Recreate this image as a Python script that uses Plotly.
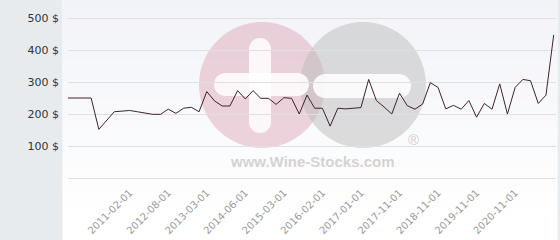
import plotly.graph_objects as go
import math

# ---------------- data ----------------
dates = [
    "2009-03-01", "2009-09-01", "2010-01-01", "2010-06-01", "2010-09-01", "2010-10-01",
    "2010-11-01", "2010-12-01", "2011-02-01", "2011-05-01", "2011-09-01", "2012-01-01",
    "2012-05-01", "2012-08-01", "2012-10-01", "2012-11-01", "2012-12-01", "2013-01-01",
    "2013-03-01", "2013-05-01", "2013-08-01", "2013-11-01", "2014-02-01", "2014-06-01",
    "2014-08-01", "2014-10-01", "2014-11-01", "2015-01-01", "2015-03-01", "2015-05-01",
    "2015-07-01", "2015-10-01", "2015-12-01", "2016-02-01", "2016-04-01", "2016-06-01",
    "2016-09-01", "2016-11-01", "2017-01-01", "2017-03-01", "2017-05-01", "2017-07-01",
    "2017-09-01", "2017-11-01", "2018-01-01", "2018-03-01", "2018-05-01", "2018-08-01",
    "2018-11-01", "2019-01-01", "2019-03-01", "2019-05-01", "2019-08-01", "2019-11-01",
    "2020-01-01", "2020-03-01", "2020-05-01", "2020-08-01", "2020-11-01", "2021-01-01",
    "2021-03-01", "2021-05-01", "2021-08-01", "2021-11-01",
]
prices = [
    250, 250, 250, 250, 152, 178, 207, 209, 211, 207, 203, 199,
    199, 215, 202, 218, 221, 207, 270, 241, 225, 225, 273, 247,
    273, 249, 249, 230, 251, 249, 200, 259, 218, 218, 162, 218,
    216, 218, 220, 308, 242, 222, 200, 265, 226, 215, 231, 298,
    283, 216, 227, 215, 242, 190, 233, 215, 294, 200, 283, 308,
    304, 233, 259, 447,
]
x_tick_labels = [
    "2011-02-01", "2012-08-01", "2013-03-01", "2014-06-01", "2015-03-01", "2016-02-01",
    "2017-01-01", "2017-11-01", "2018-11-01", "2019-11-01", "2020-11-01",
]
y_tick_values = [0, 100, 200, 300, 400, 500]
y_tick_labels = ["", "100 $", "200 $", "300 $", "400 $", "500 $"]
watermark_text = "www.Wine-Stocks.com"

# ---------------- layout geometry (pixels) ----------------
W, H = 560, 240
L, R, T, B = 68, 4, 2, 62
PW, PH = W - L - R, H - T - B


def px(x):
    return (x - L) / PW


def py(y):
    return (H - B - y) / PH


fig = go.Figure()
fig.add_trace(go.Scatter(
    x=dates, y=prices, mode="lines",
    line=dict(color="#3d2230", width=1),
    hoverinfo="x+y", showlegend=False,
))

shapes = []
# gradient background (bands) for the chart area
top = (242, 243, 248)
bot = (255, 255, 255)
n = 24
for k in range(n):
    y0 = k * H / n
    y1 = (k + 1) * H / n
    t = min(1.0, (y0 + y1) / 2 / 215)
    c = tuple(round(top[j] + (bot[j] - top[j]) * t) for j in range(3))
    shapes.append(dict(type="rect", xref="paper", yref="paper",
                       x0=px(63), x1=px(557), y0=py(y1), y1=py(y0),
                       fillcolor="rgb(%d,%d,%d)" % c, line=dict(width=0),
                       layer="below"))
# left grey panel and right border
shapes.append(dict(type="rect", xref="paper", yref="paper",
                   x0=px(0), x1=px(62.5), y0=py(H), y1=py(0),
                   fillcolor="#e7ebee", line=dict(width=0), layer="below"))
shapes.append(dict(type="rect", xref="paper", yref="paper",
                   x0=px(557.5), x1=px(W), y0=py(H), y1=py(0),
                   fillcolor="#e7ebee", line=dict(width=0), layer="below"))

# watermark: pink circle with plus, grey circle with minus
r = 63
cx1, cy1 = 262, 85
cx2, cy2 = 363, 85
shapes.append(dict(type="circle", xref="paper", yref="paper",
                   x0=px(cx1 - r), x1=px(cx1 + r), y0=py(cy1 + r), y1=py(cy1 - r),
                   fillcolor="rgba(214,150,168,0.40)", line=dict(width=0), layer="below"))
shapes.append(dict(type="circle", xref="paper", yref="paper",
                   x0=px(cx2 - r), x1=px(cx2 + r), y0=py(cy2 + r), y1=py(cy2 - r),
                   fillcolor="rgba(190,190,190,0.52)", line=dict(width=0), layer="below"))


def pill(x0, y0, x1, y1, col):
    rr = min(x1 - x0, y1 - y0) / 2
    pts = []

    def arc(cx, cy, a0, a1):
        for s in range(9):
            a = math.radians(a0 + (a1 - a0) * s / 8)
            pts.append((cx + rr * math.cos(a), cy + rr * math.sin(a)))
    arc(x1 - rr, y0 + rr, -90, 0)
    arc(x1 - rr, y1 - rr, 0, 90)
    arc(x0 + rr, y1 - rr, 90, 180)
    arc(x0 + rr, y0 + rr, 180, 270)
    path = "M " + " L ".join("%.5f,%.5f" % (px(a), py(b)) for a, b in pts) + " Z"
    return dict(type="path", xref="paper", yref="paper", path=path,
                fillcolor=col, line=dict(width=0), layer="below")


shapes.append(pill(249, 38, 271, 133, "rgba(255,255,255,0.85)"))
shapes.append(pill(214, 73, 309, 96, "rgba(255,255,255,0.85)"))
shapes.append(pill(313, 74, 411, 98, "rgba(255,255,255,0.85)"))

annotations = [
    dict(text=watermark_text, xref="paper", yref="paper", x=px(312), y=py(161),
         xanchor="center", yanchor="middle",
         showarrow=False, font=dict(family="Liberation Sans, Arial", size=15,
                                     color="rgba(200,200,200,0.8)", weight="bold")),
    dict(text="®", xref="paper", yref="paper", x=px(413), y=py(139),
         xanchor="center", yanchor="middle",
         showarrow=False, font=dict(family="Liberation Sans, Arial", size=15,
                                     color="rgba(190,190,190,0.8)")),
]

fig.update_layout(
    width=W, height=H,
    margin=dict(l=L, r=R, t=T, b=B),
    paper_bgcolor="white",
    plot_bgcolor="rgba(0,0,0,0)",
    shapes=shapes,
    annotations=annotations,
    xaxis=dict(
        type="category", range=[0, 63.3],
        tickmode="array", tickvals=x_tick_labels, ticktext=x_tick_labels,
        tickangle=-45, showgrid=False, showline=False, zeroline=False,
        tickfont=dict(family="DejaVu Sans", size=10, color="#9a9a9a"),
        ticks="", ticklabelstandoff=6,
    ),
    yaxis=dict(
        range=[0, 550], tickmode="array", tickvals=y_tick_values, ticktext=y_tick_labels,
        showgrid=True, gridcolor="#e0e0e0", gridwidth=1,
        zeroline=True, zerolinecolor="#e0e0e0", zerolinewidth=1,
        showline=False, ticks="", ticklabelstandoff=8,
        tickfont=dict(family="DejaVu Sans", size=11, color="#333333"),
    ),
    hovermode="closest",
)

fig.write_html("out.html")
